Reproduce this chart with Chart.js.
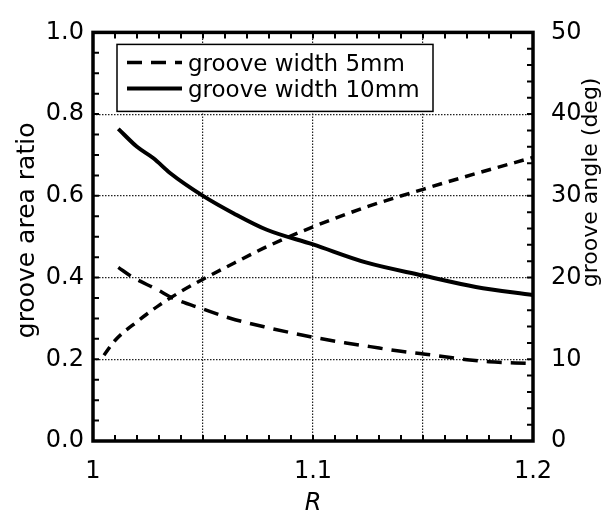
<!DOCTYPE html>
<html>
<head>
<meta charset="utf-8">
<script src="https://cdn.jsdelivr.net/npm/chart.js@4.4.0/dist/chart.umd.min.js"></script>
<style>
  html, body { margin: 0; padding: 0; background: #fff; }
  #wrap { width: 611px; height: 516px; position: relative; }
</style>
</head>
<body>
<div id="wrap"><canvas id="grooveChart"></canvas></div>
<script>
// groove width 5mm (long dashes), groove area ratio
const r5 = [1.0115, 1.018, 1.029, 1.0365, 1.05, 1.062, 1.079, 1.1, 1.115, 1.126, 1.1365, 1.1486, 1.159, 1.17, 1.18, 1.198];
const area5 = [0.425, 0.401, 0.371, 0.349, 0.323, 0.301, 0.278, 0.254, 0.240, 0.231, 0.222, 0.214, 0.207, 0.199, 0.194, 0.190];

// groove width 10mm (solid), groove area ratio
const r10 = [1.0115, 1.02, 1.0275, 1.035, 1.05, 1.064, 1.079, 1.1, 1.124, 1.15, 1.174, 1.2];
const area10 = [0.764, 0.720, 0.692, 0.656, 0.600, 0.557, 0.517, 0.481, 0.437, 0.405, 0.377, 0.357];

// groove angle (short dashes, right axis, deg)
const rAngle = [1.005, 1.01, 1.02, 1.03, 1.04, 1.05, 1.06, 1.08, 1.1, 1.125, 1.15, 1.175, 1.2];
const angleDeg = [10.5, 12.3, 14.6, 16.6, 18.3, 19.8, 21.2, 23.9, 26.2, 28.7, 30.8, 32.8, 34.7];

// axis labels
const xLabelValues = [1, 1.1, 1.2];
const xTitle = 'R';
const yLeftTitle = 'groove area ratio';
const yRightTitle = 'groove angle (deg)';

const FONT = 'DejaVu Sans';

function toPoints(xs, ys) {
    return xs.map((x, i) => ({ x: x, y: ys[i] }));
}

// thick frame + small inward ticks on all four sides
const frameTicks = {
    id: 'frameTicks',
    afterDraw(chart) {
        const { ctx, chartArea: a, scales } = chart;
        ctx.save();
        ctx.strokeStyle = '#000';
        ctx.lineWidth = 2;
        ctx.beginPath();
        for (let i = 0; i <= 20; i++) {
            const px = scales.x.getPixelForValue(1 + i * 0.01);
            ctx.moveTo(px, a.bottom); ctx.lineTo(px, a.bottom - 6);
            ctx.moveTo(px, a.top); ctx.lineTo(px, a.top + 6);
        }
        for (let i = 0; i <= 20; i++) {
            const py = scales.y.getPixelForValue(i * 0.05);
            ctx.moveTo(a.left, py); ctx.lineTo(a.left + 6, py);
        }
        for (let i = 0; i <= 25; i++) {
            const py = scales.y1.getPixelForValue(i * 2);
            ctx.moveTo(a.right, py); ctx.lineTo(a.right - 6, py);
        }
        ctx.stroke();
        ctx.lineWidth = 3.5;
        ctx.strokeRect(a.left, a.top, a.right - a.left, a.bottom - a.top);
        ctx.restore();
    }
};

// boxed legend inside the plot, upper left
const boxLegend = {
    id: 'boxLegend',
    afterDraw(chart) {
        const { ctx, chartArea: a } = chart;
        const left = a.left + 24, top = a.top + 12, w = 316, h = 67;
        ctx.save();
        ctx.fillStyle = '#fff';
        ctx.fillRect(left, top, w, h);
        ctx.strokeStyle = '#000';
        ctx.lineWidth = 1.5;
        ctx.strokeRect(left, top, w, h);
        const items = chart.data.datasets.filter(d => d.inLegend !== false);
        items.forEach((ds, i) => {
            const base = top + 27 + i * 26;
            ctx.setLineDash(ds.borderDash || []);
            ctx.lineWidth = ds.borderWidth;
            ctx.beginPath();
            ctx.moveTo(left + 10, base - 9);
            ctx.lineTo(left + 65, base - 9);
            ctx.stroke();
            ctx.setLineDash([]);
            ctx.fillStyle = '#000';
            ctx.font = '23px "' + FONT + '"';
            ctx.textBaseline = 'alphabetic';
            ctx.textAlign = 'left';
            ctx.fillText(ds.label, left + 71, base);
        });
        ctx.restore();
    }
};

// vertical axis titles, both reading bottom to top
const sideTitles = {
    id: 'sideTitles',
    afterDraw(chart) {
        const { ctx, chartArea: a } = chart;
        const titles = [
            { text: yLeftTitle, x: 27, y: a.top + 198, size: 25 },
            { text: yRightTitle, x: 591, y: a.top + 150, size: 22 }
        ];
        ctx.save();
        ctx.fillStyle = '#000';
        ctx.textAlign = 'center';
        ctx.textBaseline = 'middle';
        titles.forEach(t => {
            ctx.save();
            ctx.translate(t.x, t.y);
            ctx.rotate(-Math.PI / 2);
            ctx.font = t.size + 'px "' + FONT + '"';
            ctx.fillText(t.text, 0, 0);
            ctx.restore();
        });
        ctx.restore();
    }
};

const gridStyle = { color: '#222', lineWidth: 1.2, drawTicks: false };
const dotted = { display: false, dash: [1.5, 1.5] };
const tickFont = { family: FONT, size: 24 };

new Chart(document.getElementById('grooveChart'), {
    type: 'line',
    data: {
        datasets: [
            {
                label: 'groove width 5mm',
                data: toPoints(r5, area5),
                yAxisID: 'y',
                borderColor: '#000',
                borderWidth: 3.5,
                borderDash: [15, 9],
                pointRadius: 0,
                cubicInterpolationMode: 'monotone',
                fill: false
            },
            {
                label: 'groove width 10mm',
                data: toPoints(r10, area10),
                yAxisID: 'y',
                borderColor: '#000',
                borderWidth: 4,
                pointRadius: 0,
                cubicInterpolationMode: 'monotone',
                fill: false
            },
            {
                label: 'groove angle',
                data: toPoints(rAngle, angleDeg),
                yAxisID: 'y1',
                borderColor: '#000',
                borderWidth: 3.5,
                borderDash: [10, 7],
                pointRadius: 0,
                cubicInterpolationMode: 'monotone',
                fill: false,
                inLegend: false
            }
        ]
    },
    options: {
        responsive: true,
        maintainAspectRatio: false,
        animation: false,
        layout: { padding: { top: 23 } },
        plugins: {
            legend: { display: false },
            tooltip: { enabled: false }
        },
        scales: {
            x: {
                type: 'linear',
                min: 1,
                max: 1.2,
                afterFit: s => { s.height = 75; },
                ticks: {
                    stepSize: 0.05,
                    autoSkip: false,
                    maxRotation: 0,
                    padding: 16,
                    color: '#000',
                    font: tickFont,
                    callback: function(value) {
                        const hit = xLabelValues.find(v => Math.abs(v - value) < 1e-6);
                        return hit === undefined ? '' : String(hit);
                    }
                },
                grid: gridStyle,
                border: dotted,
                title: {
                    display: true,
                    text: xTitle,
                    color: '#000',
                    font: { family: FONT, size: 24, style: 'italic', lineHeight: 1 },
                    padding: 0
                }
            },
            y: {
                position: 'left',
                min: 0,
                max: 1,
                afterFit: s => { s.width = 93; },
                ticks: {
                    stepSize: 0.2,
                    padding: 9,
                    color: '#000',
                    font: tickFont,
                    callback: function(value) {
                        return value.toFixed(1);
                    }
                },
                grid: gridStyle,
                border: dotted
            },
            y1: {
                position: 'right',
                min: 0,
                max: 50,
                afterFit: s => { s.width = 78; },
                ticks: {
                    stepSize: 10,
                    padding: 18,
                    color: '#000',
                    font: tickFont
                },
                grid: { drawOnChartArea: false, drawTicks: false },
                border: { display: false }
            }
        }
    },
    plugins: [frameTicks, boxLegend, sideTitles]
});
</script>
</body>
</html>
